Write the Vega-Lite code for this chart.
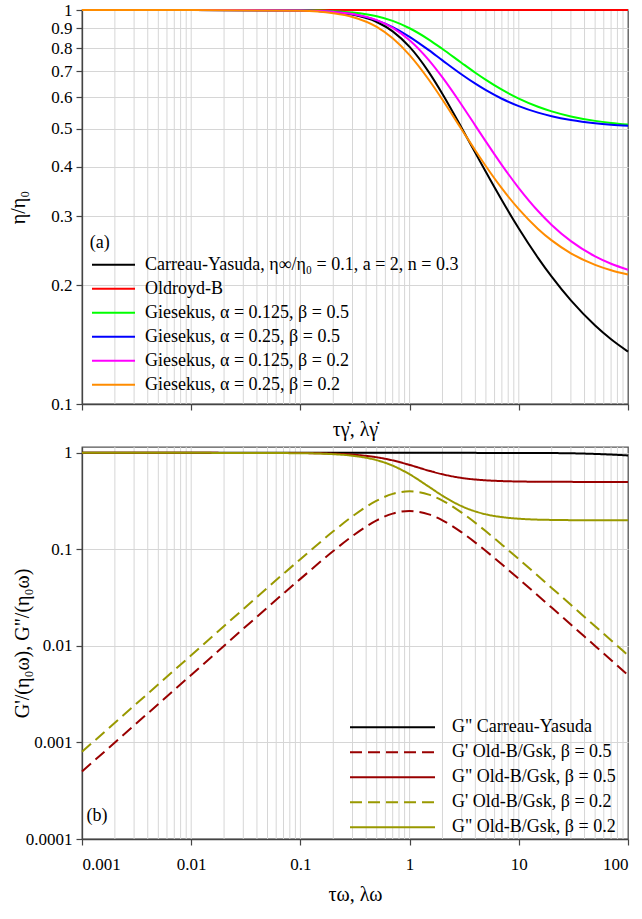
{
  "$schema": "https://vega.github.io/schema/vega-lite/v6.json",
  "padding": {"left": 7, "top": 0, "right": 0, "bottom": 0},
  "spacing": 2,
  "resolve": {
    "scale": {"x": "independent", "y": "independent", "color": "independent", "strokeDash": "independent"},
    "legend": {"color": "independent", "strokeDash": "independent"}
  },
  "config": {
    "font": "Liberation Serif",
    "view": {"stroke": "#555555", "strokeWidth": 1.3},
    "axis": {
      "labelFont": "Liberation Serif", "labelFontSize": 17, "labelColor": "#000000",
      "titleFont": "Liberation Serif", "titleFontSize": 20, "titleFontWeight": "normal", "titleColor": "#000000",
      "tickColor": "#444444", "domainColor": "#444444", "domainWidth": 1.3, "tickSize": 6, "tickWidth": 1.2,
      "gridColor": "#d6d6d6", "gridWidth": 1, "labelPadding": 4
    },
    "legend": {
      "labelFont": "Liberation Serif", "labelFontSize": 18, "labelColor": "#000000",
      "symbolType": "stroke", "symbolStrokeWidth": 2, "padding": 0, "labelLimit": 500
    }
  },
  "datasets": {
    "grid": [
      {"x": 0.002}, {"x": 0.003}, {"x": 0.004}, {"x": 0.005}, {"x": 0.006}, {"x": 0.007}, {"x": 0.008}, {"x": 0.009},
      {"x": 0.01}, {"x": 0.02}, {"x": 0.03}, {"x": 0.04}, {"x": 0.05}, {"x": 0.06}, {"x": 0.07}, {"x": 0.08}, {"x": 0.09},
      {"x": 0.1}, {"x": 0.2}, {"x": 0.3}, {"x": 0.4}, {"x": 0.5}, {"x": 0.6}, {"x": 0.7}, {"x": 0.8}, {"x": 0.9},
      {"x": 1}, {"x": 2}, {"x": 3}, {"x": 4}, {"x": 5}, {"x": 6}, {"x": 7}, {"x": 8}, {"x": 9},
      {"x": 10}, {"x": 20}, {"x": 30}, {"x": 40}, {"x": 50}, {"x": 60}, {"x": 70}, {"x": 80}, {"x": 90}
    ],
    "top": [
      {"s": "Carreau-Yasuda, η∞/η₀ = 0.1, a = 2, n = 0.3", "x": 0.001, "y": 1},
      {"s": "Carreau-Yasuda, η∞/η₀ = 0.1, a = 2, n = 0.3", "x": 0.01, "y": 1},
      {"s": "Carreau-Yasuda, η∞/η₀ = 0.1, a = 2, n = 0.3", "x": 0.1, "y": 0.99687},
      {"s": "Carreau-Yasuda, η∞/η₀ = 0.1, a = 2, n = 0.3", "x": 0.2, "y": 0.98773},
      {"s": "Carreau-Yasuda, η∞/η₀ = 0.1, a = 2, n = 0.3", "x": 0.3, "y": 0.97326},
      {"s": "Carreau-Yasuda, η∞/η₀ = 0.1, a = 2, n = 0.3", "x": 0.5, "y": 0.93238},
      {"s": "Carreau-Yasuda, η∞/η₀ = 0.1, a = 2, n = 0.3", "x": 0.7, "y": 0.88276},
      {"s": "Carreau-Yasuda, η∞/η₀ = 0.1, a = 2, n = 0.3", "x": 1, "y": 0.80612},
      {"s": "Carreau-Yasuda, η∞/η₀ = 0.1, a = 2, n = 0.3", "x": 1.5, "y": 0.69578},
      {"s": "Carreau-Yasuda, η∞/η₀ = 0.1, a = 2, n = 0.3", "x": 2, "y": 0.61238},
      {"s": "Carreau-Yasuda, η∞/η₀ = 0.1, a = 2, n = 0.3", "x": 3, "y": 0.50201},
      {"s": "Carreau-Yasuda, η∞/η₀ = 0.1, a = 2, n = 0.3", "x": 4, "y": 0.43387},
      {"s": "Carreau-Yasuda, η∞/η₀ = 0.1, a = 2, n = 0.3", "x": 5, "y": 0.38776},
      {"s": "Carreau-Yasuda, η∞/η₀ = 0.1, a = 2, n = 0.3", "x": 7, "y": 0.3289},
      {"s": "Carreau-Yasuda, η∞/η₀ = 0.1, a = 2, n = 0.3", "x": 10, "y": 0.27895},
      {"s": "Carreau-Yasuda, η∞/η₀ = 0.1, a = 2, n = 0.3", "x": 15, "y": 0.23499},
      {"s": "Carreau-Yasuda, η∞/η₀ = 0.1, a = 2, n = 0.3", "x": 20, "y": 0.21044},
      {"s": "Carreau-Yasuda, η∞/η₀ = 0.1, a = 2, n = 0.3", "x": 30, "y": 0.18319},
      {"s": "Carreau-Yasuda, η∞/η₀ = 0.1, a = 2, n = 0.3", "x": 50, "y": 0.1582},
      {"s": "Carreau-Yasuda, η∞/η₀ = 0.1, a = 2, n = 0.3", "x": 70, "y": 0.14599},
      {"s": "Carreau-Yasuda, η∞/η₀ = 0.1, a = 2, n = 0.3", "x": 100, "y": 0.13583},
      {"s": "Oldroyd-B", "x": 0.001, "y": 1},
      {"s": "Oldroyd-B", "x": 100, "y": 1},
      {"s": "Giesekus, α = 0.125, β = 0.5", "x": 0.001, "y": 1},
      {"s": "Giesekus, α = 0.125, β = 0.5", "x": 0.01, "y": 1},
      {"s": "Giesekus, α = 0.125, β = 0.5", "x": 0.1, "y": 0.9983},
      {"s": "Giesekus, α = 0.125, β = 0.5", "x": 0.2, "y": 0.99335},
      {"s": "Giesekus, α = 0.125, β = 0.5", "x": 0.3, "y": 0.98556},
      {"s": "Giesekus, α = 0.125, β = 0.5", "x": 0.5, "y": 0.96397},
      {"s": "Giesekus, α = 0.125, β = 0.5", "x": 0.7, "y": 0.93824},
      {"s": "Giesekus, α = 0.125, β = 0.5", "x": 1, "y": 0.89885},
      {"s": "Giesekus, α = 0.125, β = 0.5", "x": 1.5, "y": 0.8414},
      {"s": "Giesekus, α = 0.125, β = 0.5", "x": 2, "y": 0.79643},
      {"s": "Giesekus, α = 0.125, β = 0.5", "x": 3, "y": 0.73376},
      {"s": "Giesekus, α = 0.125, β = 0.5", "x": 4, "y": 0.69304},
      {"s": "Giesekus, α = 0.125, β = 0.5", "x": 5, "y": 0.66462},
      {"s": "Giesekus, α = 0.125, β = 0.5", "x": 7, "y": 0.62755},
      {"s": "Giesekus, α = 0.125, β = 0.5", "x": 10, "y": 0.59578},
      {"s": "Giesekus, α = 0.125, β = 0.5", "x": 15, "y": 0.56806},
      {"s": "Giesekus, α = 0.125, β = 0.5", "x": 20, "y": 0.55298},
      {"s": "Giesekus, α = 0.125, β = 0.5", "x": 30, "y": 0.53687},
      {"s": "Giesekus, α = 0.125, β = 0.5", "x": 50, "y": 0.52308},
      {"s": "Giesekus, α = 0.125, β = 0.5", "x": 70, "y": 0.51685},
      {"s": "Giesekus, α = 0.125, β = 0.5", "x": 100, "y": 0.51203},
      {"s": "Giesekus, α = 0.25, β = 0.5", "x": 0.001, "y": 1},
      {"s": "Giesekus, α = 0.25, β = 0.5", "x": 0.01, "y": 1},
      {"s": "Giesekus, α = 0.25, β = 0.5", "x": 0.1, "y": 0.99691},
      {"s": "Giesekus, α = 0.25, β = 0.5", "x": 0.2, "y": 0.98817},
      {"s": "Giesekus, α = 0.25, β = 0.5", "x": 0.3, "y": 0.97496},
      {"s": "Giesekus, α = 0.25, β = 0.5", "x": 0.5, "y": 0.94111},
      {"s": "Giesekus, α = 0.25, β = 0.5", "x": 0.7, "y": 0.9048},
      {"s": "Giesekus, α = 0.25, β = 0.5", "x": 1, "y": 0.85506},
      {"s": "Giesekus, α = 0.25, β = 0.5", "x": 1.5, "y": 0.79073},
      {"s": "Giesekus, α = 0.25, β = 0.5", "x": 2, "y": 0.74498},
      {"s": "Giesekus, α = 0.25, β = 0.5", "x": 3, "y": 0.68599},
      {"s": "Giesekus, α = 0.25, β = 0.5", "x": 4, "y": 0.65},
      {"s": "Giesekus, α = 0.25, β = 0.5", "x": 5, "y": 0.62582},
      {"s": "Giesekus, α = 0.25, β = 0.5", "x": 7, "y": 0.59536},
      {"s": "Giesekus, α = 0.25, β = 0.5", "x": 10, "y": 0.57017},
      {"s": "Giesekus, α = 0.25, β = 0.5", "x": 15, "y": 0.5489},
      {"s": "Giesekus, α = 0.25, β = 0.5", "x": 20, "y": 0.53762},
      {"s": "Giesekus, α = 0.25, β = 0.5", "x": 30, "y": 0.52581},
      {"s": "Giesekus, α = 0.25, β = 0.5", "x": 50, "y": 0.51592},
      {"s": "Giesekus, α = 0.25, β = 0.5", "x": 70, "y": 0.51154},
      {"s": "Giesekus, α = 0.25, β = 0.5", "x": 100, "y": 0.50817},
      {"s": "Giesekus, α = 0.125, β = 0.2", "x": 0.001, "y": 1},
      {"s": "Giesekus, α = 0.125, β = 0.2", "x": 0.01, "y": 1},
      {"s": "Giesekus, α = 0.125, β = 0.2", "x": 0.1, "y": 0.99727},
      {"s": "Giesekus, α = 0.125, β = 0.2", "x": 0.2, "y": 0.98935},
      {"s": "Giesekus, α = 0.125, β = 0.2", "x": 0.3, "y": 0.9769},
      {"s": "Giesekus, α = 0.125, β = 0.2", "x": 0.5, "y": 0.94235},
      {"s": "Giesekus, α = 0.125, β = 0.2", "x": 0.7, "y": 0.90118},
      {"s": "Giesekus, α = 0.125, β = 0.2", "x": 1, "y": 0.83816},
      {"s": "Giesekus, α = 0.125, β = 0.2", "x": 1.5, "y": 0.74624},
      {"s": "Giesekus, α = 0.125, β = 0.2", "x": 2, "y": 0.67428},
      {"s": "Giesekus, α = 0.125, β = 0.2", "x": 3, "y": 0.57401},
      {"s": "Giesekus, α = 0.125, β = 0.2", "x": 4, "y": 0.50886},
      {"s": "Giesekus, α = 0.125, β = 0.2", "x": 5, "y": 0.46338},
      {"s": "Giesekus, α = 0.125, β = 0.2", "x": 7, "y": 0.40407},
      {"s": "Giesekus, α = 0.125, β = 0.2", "x": 10, "y": 0.35324},
      {"s": "Giesekus, α = 0.125, β = 0.2", "x": 15, "y": 0.3089},
      {"s": "Giesekus, α = 0.125, β = 0.2", "x": 20, "y": 0.28476},
      {"s": "Giesekus, α = 0.125, β = 0.2", "x": 30, "y": 0.25899},
      {"s": "Giesekus, α = 0.125, β = 0.2", "x": 50, "y": 0.23692},
      {"s": "Giesekus, α = 0.125, β = 0.2", "x": 70, "y": 0.22696},
      {"s": "Giesekus, α = 0.125, β = 0.2", "x": 100, "y": 0.21924},
      {"s": "Giesekus, α = 0.25, β = 0.2", "x": 0.001, "y": 1},
      {"s": "Giesekus, α = 0.25, β = 0.2", "x": 0.01, "y": 1},
      {"s": "Giesekus, α = 0.25, β = 0.2", "x": 0.1, "y": 0.99506},
      {"s": "Giesekus, α = 0.25, β = 0.2", "x": 0.2, "y": 0.98106},
      {"s": "Giesekus, α = 0.25, β = 0.2", "x": 0.3, "y": 0.95993},
      {"s": "Giesekus, α = 0.25, β = 0.2", "x": 0.5, "y": 0.90577},
      {"s": "Giesekus, α = 0.25, β = 0.2", "x": 0.7, "y": 0.84768},
      {"s": "Giesekus, α = 0.25, β = 0.2", "x": 1, "y": 0.7681},
      {"s": "Giesekus, α = 0.25, β = 0.2", "x": 1.5, "y": 0.66517},
      {"s": "Giesekus, α = 0.25, β = 0.2", "x": 2, "y": 0.59196},
      {"s": "Giesekus, α = 0.25, β = 0.2", "x": 3, "y": 0.49758},
      {"s": "Giesekus, α = 0.25, β = 0.2", "x": 4, "y": 0.44},
      {"s": "Giesekus, α = 0.25, β = 0.2", "x": 5, "y": 0.4013},
      {"s": "Giesekus, α = 0.25, β = 0.2", "x": 7, "y": 0.35257},
      {"s": "Giesekus, α = 0.25, β = 0.2", "x": 10, "y": 0.31226},
      {"s": "Giesekus, α = 0.25, β = 0.2", "x": 15, "y": 0.27824},
      {"s": "Giesekus, α = 0.25, β = 0.2", "x": 20, "y": 0.26018},
      {"s": "Giesekus, α = 0.25, β = 0.2", "x": 30, "y": 0.2413},
      {"s": "Giesekus, α = 0.25, β = 0.2", "x": 50, "y": 0.22547},
      {"s": "Giesekus, α = 0.25, β = 0.2", "x": 70, "y": 0.21846},
      {"s": "Giesekus, α = 0.25, β = 0.2", "x": 100, "y": 0.21307}
    ],
    "bottom": [
      {"s": "G\" Carreau-Yasuda", "x": 0.001, "y": 1},
      {"s": "G\" Carreau-Yasuda", "x": 1, "y": 1},
      {"s": "G\" Carreau-Yasuda", "x": 10, "y": 0.999},
      {"s": "G\" Carreau-Yasuda", "x": 20, "y": 0.995},
      {"s": "G\" Carreau-Yasuda", "x": 30, "y": 0.99},
      {"s": "G\" Carreau-Yasuda", "x": 50, "y": 0.975},
      {"s": "G\" Carreau-Yasuda", "x": 70, "y": 0.96},
      {"s": "G\" Carreau-Yasuda", "x": 100, "y": 0.94},
      {"s": "G' Old-B/Gsk, β = 0.5", "x": 0.001, "y": 0.0005},
      {"s": "G' Old-B/Gsk, β = 0.5", "x": 0.01, "y": 0.005},
      {"s": "G' Old-B/Gsk, β = 0.5", "x": 0.1, "y": 0.049505},
      {"s": "G' Old-B/Gsk, β = 0.5", "x": 0.2, "y": 0.096154},
      {"s": "G' Old-B/Gsk, β = 0.5", "x": 0.3, "y": 0.137615},
      {"s": "G' Old-B/Gsk, β = 0.5", "x": 0.5, "y": 0.2},
      {"s": "G' Old-B/Gsk, β = 0.5", "x": 0.7, "y": 0.234899},
      {"s": "G' Old-B/Gsk, β = 0.5", "x": 1, "y": 0.25},
      {"s": "G' Old-B/Gsk, β = 0.5", "x": 1.5, "y": 0.230769},
      {"s": "G' Old-B/Gsk, β = 0.5", "x": 2, "y": 0.2},
      {"s": "G' Old-B/Gsk, β = 0.5", "x": 3, "y": 0.15},
      {"s": "G' Old-B/Gsk, β = 0.5", "x": 5, "y": 0.096154},
      {"s": "G' Old-B/Gsk, β = 0.5", "x": 7, "y": 0.07},
      {"s": "G' Old-B/Gsk, β = 0.5", "x": 10, "y": 0.049505},
      {"s": "G' Old-B/Gsk, β = 0.5", "x": 20, "y": 0.024938},
      {"s": "G' Old-B/Gsk, β = 0.5", "x": 50, "y": 0.009996},
      {"s": "G' Old-B/Gsk, β = 0.5", "x": 100, "y": 0.005},
      {"s": "G\" Old-B/Gsk, β = 0.5", "x": 0.001, "y": 1},
      {"s": "G\" Old-B/Gsk, β = 0.5", "x": 0.01, "y": 0.99995},
      {"s": "G\" Old-B/Gsk, β = 0.5", "x": 0.1, "y": 0.99505},
      {"s": "G\" Old-B/Gsk, β = 0.5", "x": 0.2, "y": 0.98077},
      {"s": "G\" Old-B/Gsk, β = 0.5", "x": 0.3, "y": 0.95872},
      {"s": "G\" Old-B/Gsk, β = 0.5", "x": 0.5, "y": 0.9},
      {"s": "G\" Old-B/Gsk, β = 0.5", "x": 0.7, "y": 0.83557},
      {"s": "G\" Old-B/Gsk, β = 0.5", "x": 1, "y": 0.75},
      {"s": "G\" Old-B/Gsk, β = 0.5", "x": 1.5, "y": 0.65385},
      {"s": "G\" Old-B/Gsk, β = 0.5", "x": 2, "y": 0.6},
      {"s": "G\" Old-B/Gsk, β = 0.5", "x": 3, "y": 0.55},
      {"s": "G\" Old-B/Gsk, β = 0.5", "x": 5, "y": 0.51923},
      {"s": "G\" Old-B/Gsk, β = 0.5", "x": 7, "y": 0.51},
      {"s": "G\" Old-B/Gsk, β = 0.5", "x": 10, "y": 0.50495},
      {"s": "G\" Old-B/Gsk, β = 0.5", "x": 20, "y": 0.50125},
      {"s": "G\" Old-B/Gsk, β = 0.5", "x": 50, "y": 0.5002},
      {"s": "G\" Old-B/Gsk, β = 0.5", "x": 100, "y": 0.50005},
      {"s": "G' Old-B/Gsk, β = 0.2", "x": 0.001, "y": 0.0008},
      {"s": "G' Old-B/Gsk, β = 0.2", "x": 0.01, "y": 0.008},
      {"s": "G' Old-B/Gsk, β = 0.2", "x": 0.1, "y": 0.079208},
      {"s": "G' Old-B/Gsk, β = 0.2", "x": 0.2, "y": 0.153846},
      {"s": "G' Old-B/Gsk, β = 0.2", "x": 0.3, "y": 0.220183},
      {"s": "G' Old-B/Gsk, β = 0.2", "x": 0.5, "y": 0.32},
      {"s": "G' Old-B/Gsk, β = 0.2", "x": 0.7, "y": 0.375839},
      {"s": "G' Old-B/Gsk, β = 0.2", "x": 1, "y": 0.4},
      {"s": "G' Old-B/Gsk, β = 0.2", "x": 1.5, "y": 0.369231},
      {"s": "G' Old-B/Gsk, β = 0.2", "x": 2, "y": 0.32},
      {"s": "G' Old-B/Gsk, β = 0.2", "x": 3, "y": 0.24},
      {"s": "G' Old-B/Gsk, β = 0.2", "x": 5, "y": 0.153846},
      {"s": "G' Old-B/Gsk, β = 0.2", "x": 7, "y": 0.112},
      {"s": "G' Old-B/Gsk, β = 0.2", "x": 10, "y": 0.079208},
      {"s": "G' Old-B/Gsk, β = 0.2", "x": 20, "y": 0.0399},
      {"s": "G' Old-B/Gsk, β = 0.2", "x": 50, "y": 0.015994},
      {"s": "G' Old-B/Gsk, β = 0.2", "x": 100, "y": 0.008},
      {"s": "G\" Old-B/Gsk, β = 0.2", "x": 0.001, "y": 1},
      {"s": "G\" Old-B/Gsk, β = 0.2", "x": 0.01, "y": 0.99992},
      {"s": "G\" Old-B/Gsk, β = 0.2", "x": 0.1, "y": 0.99208},
      {"s": "G\" Old-B/Gsk, β = 0.2", "x": 0.2, "y": 0.96923},
      {"s": "G\" Old-B/Gsk, β = 0.2", "x": 0.3, "y": 0.93394},
      {"s": "G\" Old-B/Gsk, β = 0.2", "x": 0.5, "y": 0.84},
      {"s": "G\" Old-B/Gsk, β = 0.2", "x": 0.7, "y": 0.73691},
      {"s": "G\" Old-B/Gsk, β = 0.2", "x": 1, "y": 0.6},
      {"s": "G\" Old-B/Gsk, β = 0.2", "x": 1.5, "y": 0.44615},
      {"s": "G\" Old-B/Gsk, β = 0.2", "x": 2, "y": 0.36},
      {"s": "G\" Old-B/Gsk, β = 0.2", "x": 3, "y": 0.28},
      {"s": "G\" Old-B/Gsk, β = 0.2", "x": 5, "y": 0.23077},
      {"s": "G\" Old-B/Gsk, β = 0.2", "x": 7, "y": 0.216},
      {"s": "G\" Old-B/Gsk, β = 0.2", "x": 10, "y": 0.20792},
      {"s": "G\" Old-B/Gsk, β = 0.2", "x": 20, "y": 0.20199},
      {"s": "G\" Old-B/Gsk, β = 0.2", "x": 50, "y": 0.20032},
      {"s": "G\" Old-B/Gsk, β = 0.2", "x": 100, "y": 0.20008}
    ]
  },
  "vconcat": [
    {
      "width": 546,
      "height": 394,
      "layer": [
        {
          "data": {"name": "grid"},
          "mark": {"type": "rule", "color": "#d6d6d6", "strokeWidth": 1},
          "encoding": {
            "x": {"field": "x", "type": "quantitative", "scale": {"type": "log", "domain": [0.001, 100], "nice": false},
                  "axis": {"values": [0.001, 0.01, 0.1, 1, 10, 100], "labels": false, "grid": false, "title": "τγ̇, λγ̇", "titlePadding": 9}}
          }
        },
        {
          "data": {"name": "top"},
          "mark": {"type": "line", "strokeWidth": 2, "interpolate": "monotone"},
          "encoding": {
            "x": {"field": "x", "type": "quantitative", "scale": {"type": "log", "domain": [0.001, 100], "nice": false},
                  "axis": {"values": [0.001, 0.01, 0.1, 1, 10, 100], "labels": false, "grid": false, "title": "τγ̇, λγ̇", "titlePadding": 9}},
            "y": {"field": "y", "type": "quantitative", "scale": {"type": "log", "domain": [0.1, 1], "nice": false},
                  "axis": {"values": [0.1, 0.2, 0.3, 0.4, 0.5, 0.6, 0.7, 0.8, 0.9, 1], "format": "~g", "grid": true, "title": "η/η₀", "titleX": -54}},
            "color": {"field": "s", "type": "nominal",
                      "scale": {"domain": ["Carreau-Yasuda, η∞/η₀ = 0.1, a = 2, n = 0.3", "Oldroyd-B", "Giesekus, α = 0.125, β = 0.5", "Giesekus, α = 0.25, β = 0.5", "Giesekus, α = 0.125, β = 0.2", "Giesekus, α = 0.25, β = 0.2"],
                                "range": ["#000000", "#ff0000", "#00ff00", "#0000ff", "#ff00ff", "#ff8c00"]},
                      "legend": {"title": null, "orient": "none", "legendX": 9, "legendY": 244, "symbolSize": 1849, "clipHeight": 21.5, "rowPadding": 2, "labelOffset": 9}}
          }
        },
        {
          "data": {"values": [{"x": 0.00118, "y": 0.2564, "t": "(a)"}]},
          "mark": {"type": "text", "align": "left", "baseline": "middle", "font": "Liberation Serif", "fontSize": 18},
          "encoding": {
            "x": {"field": "x", "type": "quantitative", "scale": {"type": "log", "domain": [0.001, 100], "nice": false},
                  "axis": {"values": [0.001, 0.01, 0.1, 1, 10, 100], "labels": false, "grid": false, "title": "τγ̇, λγ̇", "titlePadding": 9}},
            "y": {"field": "y", "type": "quantitative", "scale": {"type": "log", "domain": [0.1, 1], "nice": false},
                  "axis": {"values": [0.1, 0.2, 0.3, 0.4, 0.5, 0.6, 0.7, 0.8, 0.9, 1], "format": "~g", "grid": true, "title": "η/η₀", "titleX": -54}},
            "text": {"field": "t"}
          }
        }
      ]
    },
    {
      "width": 546,
      "height": 392,
      "layer": [
        {
          "data": {"name": "grid"},
          "mark": {"type": "rule", "color": "#d6d6d6", "strokeWidth": 1},
          "encoding": {
            "x": {"field": "x", "type": "quantitative", "scale": {"type": "log", "domain": [0.001, 100], "nice": false},
                  "axis": {"values": [0.001, 0.01, 0.1, 1, 10, 100], "format": "~g", "grid": false, "title": "τω, λω", "labelPadding": 11, "titlePadding": 12}}
          }
        },
        {
          "data": {"name": "bottom"},
          "mark": {"type": "line", "strokeWidth": 2, "interpolate": "monotone"},
          "encoding": {
            "x": {"field": "x", "type": "quantitative", "scale": {"type": "log", "domain": [0.001, 100], "nice": false},
                  "axis": {"values": [0.001, 0.01, 0.1, 1, 10, 100], "format": "~g", "grid": false, "title": "τω, λω", "labelPadding": 11, "titlePadding": 12}},
            "y": {"field": "y", "type": "quantitative", "scale": {"type": "log", "domain": [0.0001, 1.15], "nice": false},
                  "axis": {"values": [0.0001, 0.001, 0.01, 0.1, 1], "format": "~g", "grid": true, "title": "G'/(η₀ω), G\"/(η₀ω)", "titleX": -50}},
            "color": {"field": "s", "type": "nominal",
                      "scale": {"domain": ["G\" Carreau-Yasuda", "G' Old-B/Gsk, β = 0.5", "G\" Old-B/Gsk, β = 0.5", "G' Old-B/Gsk, β = 0.2", "G\" Old-B/Gsk, β = 0.2"],
                                "range": ["#000000", "#990000", "#990000", "#999900", "#999900"]},
                      "legend": {"title": null, "orient": "none", "legendX": 267, "legendY": 269, "symbolSize": 7225, "clipHeight": 22.5, "rowPadding": 2, "labelOffset": 16}},
            "strokeDash": {"field": "s", "type": "nominal",
                      "scale": {"domain": ["G\" Carreau-Yasuda", "G' Old-B/Gsk, β = 0.5", "G\" Old-B/Gsk, β = 0.5", "G' Old-B/Gsk, β = 0.2", "G\" Old-B/Gsk, β = 0.2"],
                                "range": [[1, 0], [12, 6], [1, 0], [12, 6], [1, 0]]},
                      "legend": {"title": null, "orient": "none", "legendX": 267, "legendY": 269, "symbolSize": 7225, "clipHeight": 22.5, "rowPadding": 2, "labelOffset": 16}}
          }
        },
        {
          "data": {"values": [{"x": 0.0011, "y": 0.000172, "t": "(b)"}]},
          "mark": {"type": "text", "align": "left", "baseline": "middle", "font": "Liberation Serif", "fontSize": 18},
          "encoding": {
            "x": {"field": "x", "type": "quantitative", "scale": {"type": "log", "domain": [0.001, 100], "nice": false},
                  "axis": {"values": [0.001, 0.01, 0.1, 1, 10, 100], "format": "~g", "grid": false, "title": "τω, λω", "labelPadding": 11, "titlePadding": 12}},
            "y": {"field": "y", "type": "quantitative", "scale": {"type": "log", "domain": [0.0001, 1.15], "nice": false},
                  "axis": {"values": [0.0001, 0.001, 0.01, 0.1, 1], "format": "~g", "grid": true, "title": "G'/(η₀ω), G\"/(η₀ω)", "titleX": -50}},
            "text": {"field": "t"}
          }
        }
      ]
    }
  ]
}
